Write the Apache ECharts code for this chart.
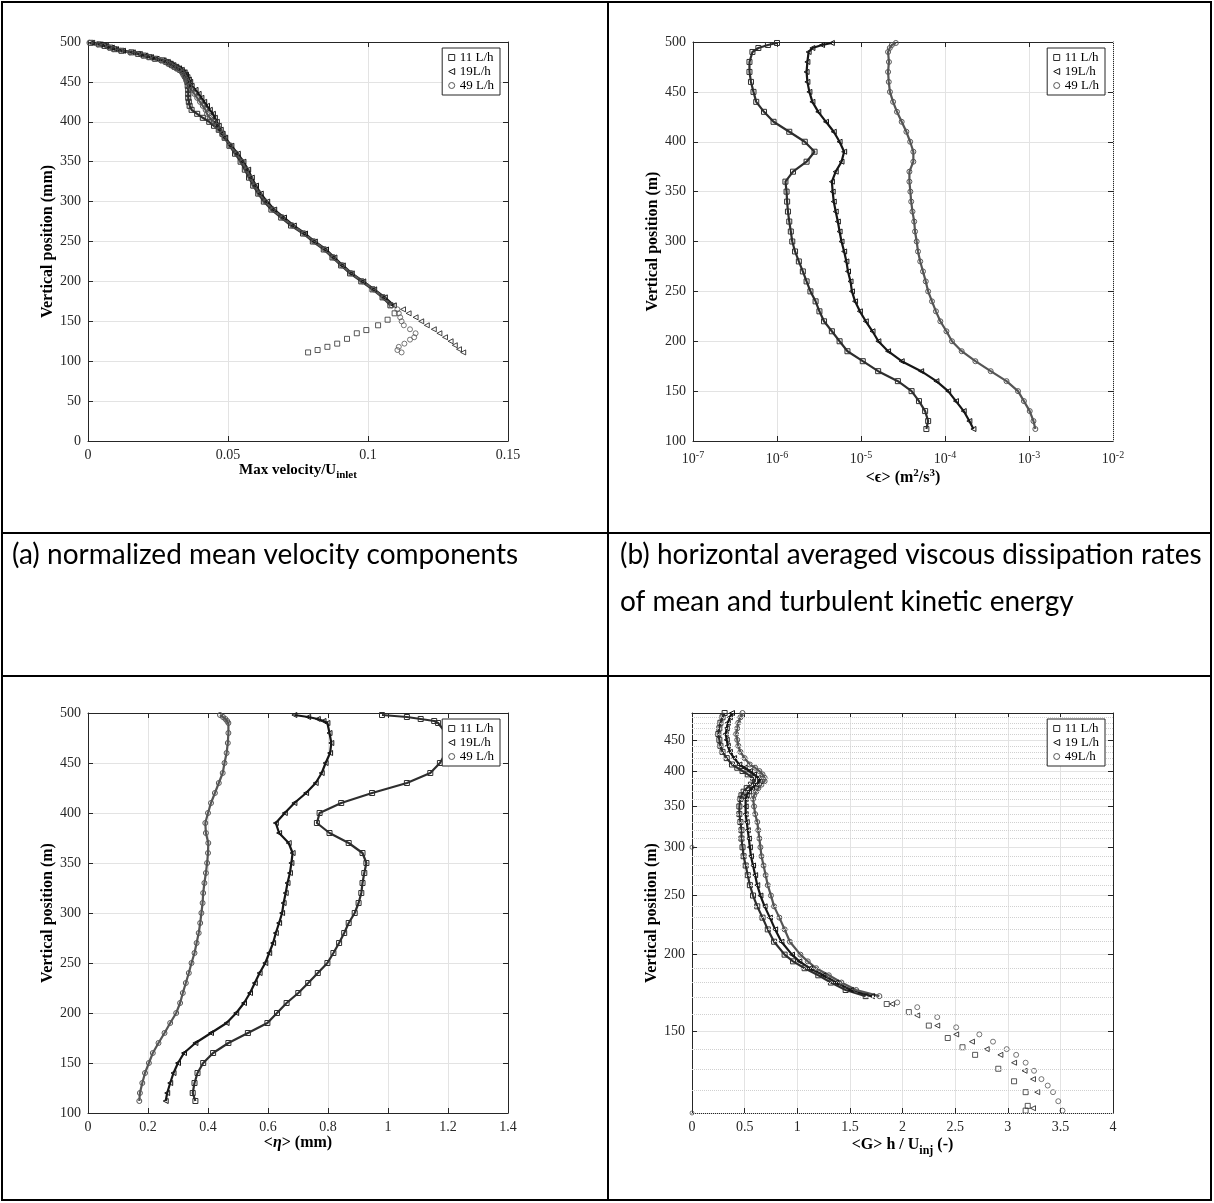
<!DOCTYPE html>
<html><head><meta charset="utf-8">
<script src="https://cdn.jsdelivr.net/npm/echarts@6/dist/echarts.min.js"></script>
<style>html,body{margin:0;padding:0;background:#fff}#c{width:1214px;height:1203px}</style>
</head><body><div id="c"></div>
<script>
// ---------- DATA ----------
// (a) Max velocity / U_inlet vs vertical position (mm)
const yA_upper = [499,497,495,493,491,489,487,485,483,481,479,477,475,473,471,469,467,465,462,459,456,453,450,445,440,435,430,425,420,415,410,405,400,395,390,385,380,370,360,350,340,330,320,310,300,290,280,270,260,250,240,230,220,210,200,190,180,170];
const a11_x = [0.001,0.004,0.006,0.008,0.0095,0.012,0.0155,0.018,0.020,0.022,0.024,0.0266,0.028,0.029,0.030,0.031,0.032,0.033,
  0.034,0.0345,0.035,0.0352,0.0355,
  0.0356,0.0358,0.0358,0.0358,0.036,0.0363,0.037,0.039,0.041,0.0433,0.045,0.0467,0.048,0.0488,
  0.0505,0.0525,0.0545,0.056,0.0575,0.059,0.0608,0.0628,0.0655,0.069,0.0725,0.0768,0.0803,0.0842,0.0873,0.0904,0.0936,0.0976,0.1016,0.1052,0.108];
const a19_x = [0.0015,0.0045,0.0065,0.0085,0.010,0.0125,0.016,0.0185,0.0205,0.0225,0.0245,0.027,0.0285,0.0295,0.0305,0.0315,0.0325,0.0335,
  0.0345,0.035,0.0355,0.036,0.0365,
  0.037,0.0384,0.0395,0.0405,0.0415,0.0425,0.0435,0.0446,0.0453,0.046,0.0467,0.0474,0.048,0.049,
  0.0512,0.0535,0.0555,0.0572,0.0585,0.06,0.0617,0.064,0.0665,0.07,0.0735,0.0775,0.081,0.085,0.088,0.091,0.0942,0.0983,0.1022,0.106,0.1092];
const a49_x = [0.0005,0.0035,0.0055,0.0075,0.009,0.0115,0.015,0.0175,0.0195,0.0215,0.0235,0.026,0.0275,0.0285,0.0295,0.0305,0.0315,0.0325,
  0.0335,0.034,0.0345,0.035,0.0355,
  0.0362,0.037,0.038,0.039,0.040,0.041,0.042,0.0425,0.0435,0.045,0.046,0.047,0.048,0.0488,
  0.0508,0.053,0.055,0.0566,0.058,0.0595,0.0612,0.0633,0.066,0.0695,0.073,0.0772,0.0807,0.0846,0.0876,0.0907,0.094,0.098,0.102,0.1055,0.1085];
const a11_tail_y = [160,152,145,139,135,128,122,118,114,111];
const a11_tail_x = [0.1095,0.107,0.1036,0.0994,0.096,0.0925,0.089,0.0855,0.082,0.0786];
const a19_tail_y = [165,160,155,150,145,140,135,130,125,120,115,111];
const a19_tail_x = [0.1125,0.1145,0.117,0.119,0.121,0.1235,0.1255,0.1275,0.1295,0.131,0.1325,0.134];
const a49_tail_y = [165,160,155,150,145,140,135,130,127,122,118,114,111];
const a49_tail_x = [0.1105,0.111,0.1115,0.112,0.1128,0.115,0.117,0.1165,0.115,0.113,0.111,0.1105,0.112];

// (b) <epsilon> (m2/s3) vs vertical position
const yB = [499,497,494,490,480,470,460,450,440,430,420,410,400,390,380,370,360,350,340,330,320,310,300,290,280,270,260,250,240,230,220,210,200,190,180,170,160,150,140,130,120,112];
const b11_x = [1.0e-6,7.8e-7,6.0e-7,5.1e-7,4.7e-7,4.7e-7,4.9e-7,5.25e-7,5.66e-7,7.0e-7,9.1e-7,1.4e-6,2.14e-6,2.8e-6,2.25e-6,1.55e-6,1.26e-6,1.3e-6,1.32e-6,1.35e-6,1.4e-6,1.46e-6,1.52e-6,1.64e-6,1.82e-6,2.03e-6,2.25e-6,2.5e-6,2.88e-6,3.2e-6,3.63e-6,4.5e-6,5.56e-6,6.9e-6,1.05e-5,1.6e-5,2.75e-5,4.0e-5,4.9e-5,5.8e-5,6.3e-5,6.0e-5];
const b19_x = [4.5e-6,3.44e-6,2.64e-6,2.38e-6,2.3e-6,2.25e-6,2.3e-6,2.43e-6,2.64e-6,3.1e-6,3.83e-6,4.74e-6,5.56e-6,6.3e-6,5.86e-6,5.0e-6,4.5e-6,4.6e-6,4.74e-6,5.0e-6,5.3e-6,5.56e-6,5.86e-6,6.3e-6,6.7e-6,7.0e-6,7.5e-6,7.8e-6,8.5e-6,9.7e-6,1.14e-5,1.37e-5,1.61e-5,2.1e-5,3.05e-5,5.2e-5,7.9e-5,1.09e-4,1.35e-4,1.67e-4,1.95e-4,2.18e-4];
const b49_x = [2.6e-5,2.33e-5,2.2e-5,2.1e-5,2.15e-5,2.1e-5,2.14e-5,2.21e-5,2.41e-5,2.68e-5,3.05e-5,3.47e-5,3.85e-5,4.2e-5,4.2e-5,3.77e-5,3.77e-5,3.87e-5,3.96e-5,4.1e-5,4.3e-5,4.4e-5,4.6e-5,4.77e-5,5.07e-5,5.47e-5,5.9e-5,6.3e-5,7.0e-5,7.8e-5,8.8e-5,1.04e-4,1.21e-4,1.58e-4,2.3e-4,3.5e-4,5.4e-4,7.4e-4,8.7e-4,1.02e-3,1.13e-3,1.19e-3];

// (c) <eta> (mm) vs vertical position
const yC = [498,496,494,492,490,480,470,460,450,440,430,420,410,400,390,380,370,360,350,340,330,320,310,300,290,280,270,260,250,240,230,220,210,200,190,180,170,160,150,140,130,120,112];
const c11_x = [0.98,1.063,1.109,1.154,1.167,1.193,1.199,1.193,1.173,1.141,1.063,0.947,0.844,0.772,0.763,0.805,0.869,0.915,0.928,0.921,0.915,0.911,0.902,0.889,0.869,0.854,0.837,0.818,0.798,0.766,0.734,0.701,0.662,0.63,0.598,0.533,0.468,0.417,0.384,0.365,0.355,0.349,0.358];
const c19_x = [0.688,0.734,0.766,0.785,0.798,0.805,0.811,0.807,0.792,0.779,0.759,0.727,0.688,0.656,0.626,0.637,0.669,0.682,0.678,0.673,0.665,0.659,0.652,0.647,0.637,0.626,0.617,0.604,0.591,0.572,0.556,0.54,0.52,0.494,0.462,0.41,0.358,0.32,0.30,0.285,0.274,0.264,0.259];
const c49_x = [0.44,0.45,0.458,0.464,0.468,0.468,0.466,0.462,0.455,0.449,0.436,0.423,0.41,0.40,0.391,0.393,0.401,0.40,0.397,0.393,0.388,0.384,0.382,0.378,0.374,0.369,0.362,0.355,0.345,0.336,0.326,0.316,0.307,0.294,0.274,0.255,0.235,0.216,0.203,0.19,0.181,0.173,0.171];

// (d) <G> h / U_inj vs vertical position (log axis)
const yD_upper = [498,490,480,470,460,450,440,430,420,410,405,400,395,390,385,380,375,370,365,360,350,340,330,320,310,300,290,280,270,260,250,240,230,220,210,200,195,190,185,180,175,171];
const d11_x = [0.31,0.29,0.27,0.26,0.25,0.26,0.27,0.29,0.33,0.38,0.43,0.48,0.53,0.58,0.60,0.56,0.52,0.49,0.47,0.46,0.45,0.45,0.46,0.47,0.47,0.48,0.49,0.51,0.53,0.55,0.58,0.62,0.67,0.72,0.78,0.88,0.96,1.07,1.20,1.32,1.46,1.65];
const d19_x = [0.38,0.36,0.34,0.33,0.32,0.33,0.34,0.36,0.40,0.45,0.50,0.55,0.59,0.63,0.645,0.61,0.57,0.54,0.52,0.51,0.51,0.51,0.52,0.53,0.54,0.55,0.56,0.58,0.60,0.62,0.65,0.69,0.74,0.79,0.85,0.95,1.02,1.12,1.25,1.37,1.51,1.71];
const d49_x = [0.48,0.46,0.44,0.43,0.42,0.43,0.44,0.46,0.50,0.55,0.60,0.64,0.67,0.69,0.69,0.66,0.63,0.61,0.59,0.58,0.59,0.60,0.62,0.63,0.64,0.65,0.66,0.68,0.70,0.72,0.75,0.78,0.83,0.88,0.93,1.03,1.10,1.18,1.30,1.42,1.56,1.78];
const d11_tail_y = [166,161,153,146,141,137,130,124,119,113,111];
const d11_tail_x = [1.85,2.06,2.25,2.43,2.57,2.69,2.91,3.06,3.17,3.19,3.17];
const d19_tail_y = [166,159,153,148,144,140,137,133,129,125,119,112];
const d19_tail_x = [1.90,2.14,2.33,2.51,2.66,2.80,2.93,3.06,3.16,3.24,3.28,3.24];
const d49_tail_y = [167,164,158,152,148,144,140,137,133,129,125,122,119,115,111];
const d49_tail_x = [1.95,2.14,2.33,2.51,2.73,2.86,2.99,3.08,3.17,3.25,3.32,3.38,3.43,3.48,3.52];
const dStray_x = [0, 0];
const dStray_y = [300, 110];

// tick labels / legends / captions
const dMajorTicks = [150,200,250,300,350,400,450];
const legendABC = ['11 L/h','19L/h','49 L/h'];
const legendD = ['11 L/h','19 L/h','49L/h'];
const captions = ['(a) normalized mean velocity components','(b) horizontal averaged viscous dissipation rates','of mean and turbulent kinetic energy'];

// ---------- STYLE ----------
const AX = '#262626';
const FONT = 'Liberation Serif';
const COLS = ['#2e2e2e','#161616','#555555'];
const SYMS = ['path://M0,0 L10,0 L10,10 L0,10 Z','path://M10,0 L10,10 L0,5 Z','circle'];
const zip = (xs, ys) => xs.map((x, i) => [x, ys[i]]);

function mainAxis(extra) {
  return Object.assign({
    axisLine: {show: true, onZero: false, lineStyle: {color: AX, width: 1}},
    axisTick: {show: true, inside: true, length: 5, lineStyle: {color: AX}},
    axisLabel: {color: AX, fontFamily: FONT, fontSize: 14, margin: 7},
    splitLine: {show: true, lineStyle: {color: '#e3e3e3', width: 1}},
    nameLocation: 'middle',
    nameTextStyle: {color: '#000', fontFamily: FONT, fontSize: 16, fontWeight: 'bold'}
  }, extra);
}
function mirrorAxis(extra) {
  return Object.assign({
    axisLine: {show: true, onZero: false, lineStyle: {color: AX, width: 1}},
    axisTick: {show: true, inside: true, length: 5, lineStyle: {color: AX}},
    axisLabel: {show: false},
    splitLine: {show: false}
  }, extra);
}
function lineSer(name, idx, gi, data) {
  return {type: 'line', name, xAxisIndex: 2*gi, yAxisIndex: 2*gi, data,
    symbol: SYMS[idx], symbolSize: 5, showSymbol: true, showAllSymbol: true,
    itemStyle: {color: 'rgba(0,0,0,0)', borderColor: COLS[idx], borderWidth: 1},
    lineStyle: {color: COLS[idx], width: 2.2}, silent: true, animation: false, z: 3};
}
function scatSer(name, idx, gi, data) {
  return {type: 'scatter', name, xAxisIndex: 2*gi, yAxisIndex: 2*gi, data,
    symbol: SYMS[idx], symbolSize: 5,
    itemStyle: {color: 'rgba(0,0,0,0)', borderColor: COLS[idx], borderWidth: 1},
    silent: true, animation: false, z: 3};
}
function legendCfg(names, right, top) {
  return {orient: 'vertical', right, top, selectedMode: false, z: 20,
    data: names.map((n, i) => ({name: n, icon: SYMS[i], itemStyle: {color: 'rgba(0,0,0,0)', borderColor: COLS[i], borderWidth: 1}})),
    itemWidth: 6, itemHeight: 6, itemGap: 1, padding: [3, 6, 3, 6],
    backgroundColor: '#fff', borderColor: AX, borderWidth: 1,
    textStyle: {fontFamily: FONT, fontSize: 13, color: '#000', lineHeight: 13}};
}

// minor grid positions (axis decoration)
const minorB = [];
for (let e = -7; e < -2; e++) for (let m = 2; m <= 9; m++) minorB.push(m * Math.pow(10, e));
const minorD = [];
for (let v = 110; v < 498; v += 10) if (v % 50 !== 0) minorD.push(v);

const supRich = {sup: {fontSize: 10, fontFamily: FONT, color: AX, verticalAlign: 'top', padding: [0, 0, 9, 0]}};

const option = {
  backgroundColor: '#fff',
  animation: false,
  grid: [
    {left: 88, top: 42, width: 420, height: 399},
    {left: 693, top: 42, width: 420, height: 399},
    {left: 88, top: 713, width: 420, height: 400},
    {left: 692, top: 713, width: 421, height: 400}
  ],
  xAxis: [
    mainAxis({gridIndex: 0, type: 'value', min: 0, max: 0.15, interval: 0.05, position: 'bottom',
      name: 'Max velocity/U{sub|inlet}', nameGap: 18,
      nameTextStyle: {color: '#000', fontFamily: FONT, fontSize: 15, fontWeight: 'bold',
        rich: {sub: {fontSize: 11, fontFamily: FONT, fontWeight: 'bold', color: '#000', padding: [9, 0, 0, 0]}}}}),
    mirrorAxis({gridIndex: 0, type: 'value', min: 0, max: 0.15, interval: 0.05, position: 'top'}),
    mainAxis({gridIndex: 1, type: 'log', logBase: 10, min: 1e-7, max: 1e-2, position: 'bottom',
      axisLabel: {color: AX, fontFamily: FONT, fontSize: 14, margin: 9,
        formatter: v => '10{sup|' + Math.round(Math.log10(v)) + '}', rich: supRich},
      name: '<ϵ> (m{sup|2}/s{sup|3})', nameGap: 22,
      nameTextStyle: {color: '#000', fontFamily: FONT, fontSize: 16, fontWeight: 'bold',
        rich: {sup: {fontSize: 11, fontFamily: FONT, fontWeight: 'bold', color: '#000', padding: [0, 0, 9, 0]}}}}),
    mirrorAxis({gridIndex: 1, type: 'log', logBase: 10, min: 1e-7, max: 1e-2, position: 'top'}),
    mainAxis({gridIndex: 2, type: 'value', min: 0, max: 1.4, interval: 0.2, position: 'bottom',
      name: '<{it|η}> (mm)', nameGap: 22,
      nameTextStyle: {color: '#000', fontFamily: FONT, fontSize: 16, fontWeight: 'bold',
        rich: {it: {fontSize: 16, fontFamily: FONT, fontStyle: 'italic', color: '#000'}}}}),
    mirrorAxis({gridIndex: 2, type: 'value', min: 0, max: 1.4, interval: 0.2, position: 'top'}),
    mainAxis({gridIndex: 3, type: 'value', min: 0, max: 4, interval: 0.5, position: 'bottom',
      name: '<G> h / U{sub|inj} (-)', nameGap: 20,
      nameTextStyle: {color: '#000', fontFamily: FONT, fontSize: 16, fontWeight: 'bold',
        rich: {sub: {fontSize: 12, fontFamily: FONT, fontWeight: 'bold', color: '#000', padding: [12, 0, 0, 0]}}}}),
    mirrorAxis({gridIndex: 3, type: 'value', min: 0, max: 4, interval: 0.5, position: 'top'})
  ],
  yAxis: [
    mainAxis({gridIndex: 0, type: 'value', min: 0, max: 500, interval: 50, position: 'left',
      name: 'Vertical position (mm)', nameGap: 30}),
    mirrorAxis({gridIndex: 0, type: 'value', min: 0, max: 500, interval: 50, position: 'right'}),
    mainAxis({gridIndex: 1, type: 'value', min: 100, max: 500, interval: 50, position: 'left',
      name: 'Vertical position (m)', nameGap: 30}),
    mirrorAxis({gridIndex: 1, type: 'value', min: 100, max: 500, interval: 50, position: 'right'}),
    mainAxis({gridIndex: 2, type: 'value', min: 100, max: 500, interval: 50, position: 'left',
      name: 'Vertical position (m)', nameGap: 30}),
    mirrorAxis({gridIndex: 2, type: 'value', min: 100, max: 500, interval: 50, position: 'right'}),
    mainAxis({gridIndex: 3, type: 'log', logBase: 10, min: 110, max: 498, position: 'left',
      axisLabel: {color: AX, fontFamily: FONT, fontSize: 14, margin: 7, customValues: dMajorTicks},
      axisTick: {show: true, inside: true, length: 5, lineStyle: {color: AX}, customValues: dMajorTicks},
      name: 'Vertical position (m)', nameGap: 30}),
    mirrorAxis({gridIndex: 3, type: 'log', logBase: 10, min: 110, max: 498, position: 'right',
      axisTick: {show: true, inside: true, length: 5, lineStyle: {color: AX}, customValues: dMajorTicks}})
  ],
  legend: [
    legendCfg(legendABC, 714, 48),
    legendCfg(legendABC, 109, 48),
    legendCfg(legendABC, 714, 719),
    legendCfg(legendD, 109, 719)
  ],
  series: [
    // minor grid lines
    {type: 'line', xAxisIndex: 2, yAxisIndex: 2, data: [], silent: true, z: 1,
      markLine: {silent: true, symbol: ['none', 'none'], label: {show: false}, animation: false,
        lineStyle: {color: '#d0d0d0', type: 'dotted', width: 1}, data: minorB.map(v => ({xAxis: v}))}},
    {type: 'line', xAxisIndex: 6, yAxisIndex: 6, data: [], silent: true, z: 1,
      markLine: {silent: true, symbol: ['none', 'none'], label: {show: false}, animation: false,
        lineStyle: {color: '#d0d0d0', type: 'dotted', width: 1}, data: minorD.map(v => ({yAxis: v}))}},
    // (a)
    lineSer(legendABC[0], 0, 0, zip(a11_x, yA_upper)),
    lineSer(legendABC[1], 1, 0, zip(a19_x, yA_upper)),
    lineSer(legendABC[2], 2, 0, zip(a49_x, yA_upper)),
    scatSer(legendABC[0], 0, 0, zip(a11_tail_x, a11_tail_y)),
    scatSer(legendABC[1], 1, 0, zip(a19_tail_x, a19_tail_y)),
    scatSer(legendABC[2], 2, 0, zip(a49_tail_x, a49_tail_y)),
    // (b)
    lineSer(legendABC[0], 0, 1, zip(b11_x, yB)),
    lineSer(legendABC[1], 1, 1, zip(b19_x, yB)),
    lineSer(legendABC[2], 2, 1, zip(b49_x, yB)),
    // (c)
    lineSer(legendABC[0], 0, 2, zip(c11_x, yC)),
    lineSer(legendABC[1], 1, 2, zip(c19_x, yC)),
    lineSer(legendABC[2], 2, 2, zip(c49_x, yC)),
    // (d)
    lineSer(legendD[0], 0, 3, zip(d11_x, yD_upper)),
    lineSer(legendD[1], 1, 3, zip(d19_x, yD_upper)),
    lineSer(legendD[2], 2, 3, zip(d49_x, yD_upper)),
    scatSer(legendD[0], 0, 3, zip(d11_tail_x, d11_tail_y)),
    scatSer(legendD[1], 1, 3, zip(d19_tail_x, d19_tail_y)),
    scatSer(legendD[2], 2, 3, zip(d49_tail_x, d49_tail_y)),
    {type: 'scatter', name: 'stray', xAxisIndex: 6, yAxisIndex: 6, data: zip(dStray_x, dStray_y),
      symbol: 'circle', symbolSize: 4, itemStyle: {color: 'rgba(0,0,0,0)', borderColor: '#444', borderWidth: 0.9},
      silent: true, z: 3, clip: false}
  ],
  graphic: [
    {type: 'rect', silent: true, shape: {x: 2, y: 2, width: 1209, height: 1198}, style: {fill: 'none', stroke: '#000', lineWidth: 2}},
    {type: 'line', silent: true, shape: {x1: 608, y1: 2, x2: 608, y2: 1200}, style: {stroke: '#000', lineWidth: 2}},
    {type: 'line', silent: true, shape: {x1: 2, y1: 533, x2: 1211, y2: 533}, style: {stroke: '#000', lineWidth: 2}},
    {type: 'line', silent: true, shape: {x1: 2, y1: 676, x2: 1211, y2: 676}, style: {stroke: '#000', lineWidth: 2}},
    {type: 'text', silent: true, x: 12, y: 555, style: {text: captions[0], font: '28px Lato', fill: '#000', verticalAlign: 'middle'}},
    {type: 'text', silent: true, x: 620, y: 555, style: {text: captions[1], font: '28px Lato', fill: '#000', verticalAlign: 'middle'}},
    {type: 'text', silent: true, x: 620, y: 602, style: {text: captions[2], font: '28px Lato', fill: '#000', verticalAlign: 'middle'}}
  ]
};
const chart = echarts.init(document.getElementById('c'), null, {renderer: 'canvas'});
chart.setOption(option);
</script></body></html>
